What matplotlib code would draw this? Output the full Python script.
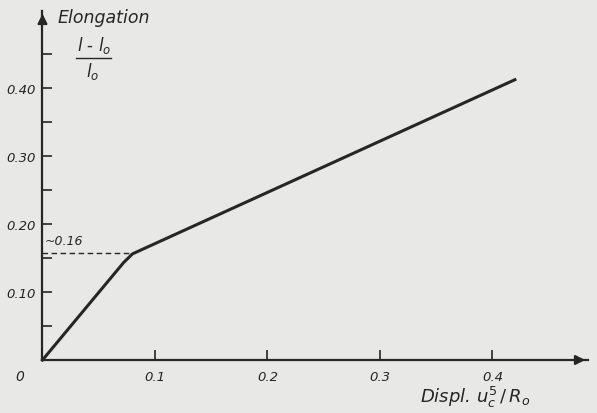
import matplotlib
matplotlib.use("Agg")
import matplotlib.pyplot as plt

# elongation curve
displ = [0.0, 0.072, 0.080, 0.42]
elong = [0.0, 0.143, 0.156, 0.412]

x_ticks = [0.1, 0.2, 0.3, 0.4]
x_labels = ["0.1", "0.2", "0.3", "0.4"]
y_ticks = [0.10, 0.20, 0.30, 0.40]
y_labels = ["0.10", "0.20", "0.30", "0.40"]
y_minor = [0.05, 0.15, 0.25, 0.35, 0.45]
knee_y = 0.16

paper = "#e8e8e6"
ink = "#262626"

W, H = 597, 414
fig = plt.figure(figsize=(W / 100, H / 100), dpi=100, facecolor=paper)
ax = fig.add_axes([42.5 / W, (H - 361) / H, (588 - 42.5) / W, (361 - 12) / H])
ax.set_facecolor(paper)
ax.set_xlim(0, 0.485)
ax.set_ylim(0, 0.513)

for s in ["top", "right"]:
    ax.spines[s].set_visible(False)
for s in ["left", "bottom"]:
    ax.spines[s].set_linewidth(1.6)
    ax.spines[s].set_color(ink)

# arrow heads at the axis ends
ax.annotate("", xy=(1.0, 0), xycoords="axes fraction", xytext=(0.97, 0),
            arrowprops=dict(arrowstyle="-|>", color=ink, lw=1.6, mutation_scale=14))
ax.annotate("", xy=(0, 1.0), xycoords="axes fraction", xytext=(0, 0.96),
            arrowprops=dict(arrowstyle="-|>", color=ink, lw=1.6, mutation_scale=14))

ax.set_xticks(x_ticks)
ax.set_xticklabels(x_labels, fontstyle="italic", fontsize=9.5, color=ink)
ax.set_yticks(y_ticks)
ax.set_yticklabels(y_labels, fontstyle="italic", fontsize=9.5, color=ink)
ax.set_yticks(y_minor, minor=True)
ax.tick_params(axis="both", which="both", direction="in", length=7, width=1.2, color=ink)
ax.tick_params(axis="x", pad=7)
ax.tick_params(axis="y", pad=5)

ax.plot(displ, elong, color=ink, lw=2.2, solid_joinstyle="round", clip_on=False)
ax.plot([0, displ[2]], [knee_y - 0.003, knee_y - 0.003], color=ink, lw=1.0, ls=(0, (4, 2.5)))

ax.text(0.002, knee_y + 0.011, "~0.16", fontstyle="italic", fontsize=9, color=ink)
fig.text(20 / W, 1 - 377 / H, "0", fontstyle="italic", fontsize=10, color=ink,
         ha="center", va="center")

# axis titles
fig.text(58 / W, 1 - 18 / H, "Elongation", fontstyle="italic", fontsize=12.5, color=ink,
         va="center")
fig.text(94 / W, 1 - 46 / H, r"$\mathit{l}$ - $\mathit{l_o}$", fontsize=12, color=ink,
         ha="center", va="center")
fig.add_artist(plt.Line2D([76 / W, 111 / W], [1 - 59 / H, 1 - 59 / H], color=ink, lw=1.0))
fig.text(93 / W, 1 - 72 / H, r"$\mathit{l_o}$", fontsize=12, color=ink,
         ha="center", va="center")
fig.text(420 / W, 1 - 397 / H, r"Displ. $\mathit{u_c^5\,/\,R_o}$", fontstyle="italic",
         fontsize=13, color=ink, va="center")

fig.savefig("out.png", dpi=100, facecolor=paper)
